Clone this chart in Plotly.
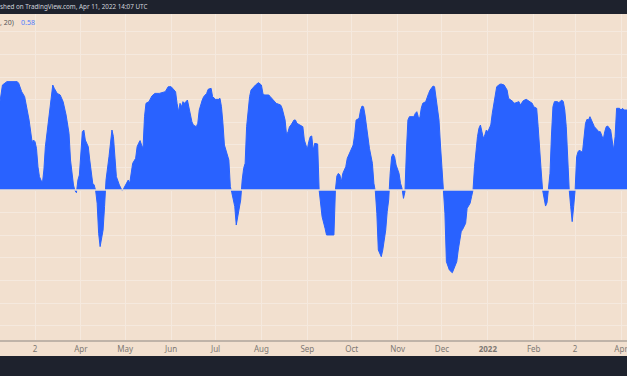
import plotly.graph_objects as go

# ---------------- data ----------------
dates = [
    "2021-02-05","2021-02-07","2021-02-10","2021-02-17","2021-02-18","2021-02-20","2021-02-22","2021-02-23",
    "2021-02-25","2021-02-27","2021-02-28","2021-03-01","2021-03-02","2021-03-03","2021-03-04","2021-03-06",
    "2021-03-07","2021-03-08","2021-03-10","2021-03-12","2021-03-13","2021-03-14","2021-03-16","2021-03-18",
    "2021-03-20","2021-03-22","2021-03-24","2021-03-25","2021-03-27","2021-03-28","2021-03-29","2021-03-30",
    "2021-03-31","2021-04-02","2021-04-03","2021-04-04","2021-04-06","2021-04-07","2021-04-09","2021-04-10",
    "2021-04-11","2021-04-12","2021-04-13","2021-04-14","2021-04-15","2021-04-16","2021-04-17","2021-04-18",
    "2021-04-20","2021-04-22","2021-04-23","2021-04-24","2021-04-25","2021-04-27","2021-04-29","2021-04-30",
    "2021-05-02","2021-05-03","2021-05-04","2021-05-05","2021-05-06","2021-05-08","2021-05-09","2021-05-10",
    "2021-05-11","2021-05-12","2021-05-13","2021-05-14","2021-05-15","2021-05-17","2021-05-19","2021-05-21",
    "2021-05-24","2021-05-28","2021-05-30","2021-06-01","2021-06-04","2021-06-05","2021-06-06","2021-06-07",
    "2021-06-08","2021-06-09","2021-06-10","2021-06-12","2021-06-13","2021-06-14","2021-06-15","2021-06-16",
    "2021-06-18","2021-06-19","2021-06-20","2021-06-22","2021-06-23","2021-06-25","2021-06-26","2021-06-28",
    "2021-06-29","2021-07-01","2021-07-03","2021-07-04","2021-07-05","2021-07-06","2021-07-07","2021-07-10",
    "2021-07-11","2021-07-12","2021-07-14","2021-07-15","2021-07-16","2021-07-18","2021-07-19","2021-07-20",
    "2021-07-21","2021-07-22","2021-07-24","2021-07-25","2021-07-28","2021-07-30","2021-08-01","2021-08-02",
    "2021-08-03","2021-08-06","2021-08-07","2021-08-09","2021-08-11","2021-08-14","2021-08-15","2021-08-17",
    "2021-08-18","2021-08-19","2021-08-20","2021-08-21","2021-08-23","2021-08-24","2021-08-25","2021-08-27",
    "2021-08-29","2021-08-30","2021-09-01","2021-09-02","2021-09-03","2021-09-04","2021-09-05","2021-09-06",
    "2021-09-08","2021-09-09","2021-09-10","2021-09-11","2021-09-13","2021-09-14","2021-09-19","2021-09-20",
    "2021-09-21","2021-09-22","2021-09-23","2021-09-24","2021-09-25","2021-09-27","2021-09-28","2021-09-29",
    "2021-09-30","2021-10-02","2021-10-03","2021-10-04","2021-10-06","2021-10-07","2021-10-08","2021-10-09",
    "2021-10-10","2021-10-11","2021-10-12","2021-10-13","2021-10-15","2021-10-16","2021-10-17","2021-10-18",
    "2021-10-19","2021-10-21","2021-10-22","2021-10-24","2021-10-25","2021-10-26","2021-10-27","2021-10-28",
    "2021-10-29","2021-10-30","2021-10-31","2021-11-02","2021-11-03","2021-11-04","2021-11-05","2021-11-06",
    "2021-11-07","2021-11-08","2021-11-09","2021-11-12","2021-11-13","2021-11-14","2021-11-15","2021-11-16",
    "2021-11-17","2021-11-18","2021-11-20","2021-11-21","2021-11-22","2021-11-23","2021-11-25","2021-11-26",
    "2021-11-27","2021-11-29","2021-11-30","2021-12-01","2021-12-02","2021-12-03","2021-12-04","2021-12-05",
    "2021-12-06","2021-12-08","2021-12-09","2021-12-10","2021-12-11","2021-12-12","2021-12-13","2021-12-14",
    "2021-12-15","2021-12-17","2021-12-18","2021-12-19","2021-12-20","2021-12-21","2021-12-22","2021-12-23",
    "2021-12-24","2021-12-25","2021-12-26","2021-12-27","2021-12-28","2021-12-29","2021-12-30","2021-12-31",
    "2022-01-01","2022-01-03","2022-01-04","2022-01-05","2022-01-06","2022-01-07","2022-01-09","2022-01-10",
    "2022-01-12","2022-01-14","2022-01-15","2022-01-16","2022-01-18","2022-01-19","2022-01-20","2022-01-22",
    "2022-01-23","2022-01-24","2022-01-25","2022-01-27","2022-01-29","2022-01-31","2022-02-01","2022-02-03",
    "2022-02-04","2022-02-05","2022-02-06","2022-02-07","2022-02-08","2022-02-09","2022-02-10","2022-02-11",
    "2022-02-12","2022-02-13","2022-02-14","2022-02-15","2022-02-17","2022-02-18","2022-02-19","2022-02-20",
    "2022-02-21","2022-02-22","2022-02-23","2022-02-24","2022-02-25","2022-02-26","2022-02-27","2022-02-28",
    "2022-03-01","2022-03-02","2022-03-03","2022-03-04","2022-03-05","2022-03-06","2022-03-07","2022-03-08",
    "2022-03-09","2022-03-10","2022-03-11","2022-03-12","2022-03-13","2022-03-14","2022-03-16","2022-03-17",
    "2022-03-18","2022-03-19","2022-03-20","2022-03-21","2022-03-22","2022-03-23","2022-03-25","2022-03-26",
    "2022-03-27","2022-03-28","2022-03-29","2022-03-31","2022-04-01","2022-04-02","2022-04-03","2022-04-05",
    "2022-04-06","2022-04-07","2022-04-08",
]

corr = [
    0.752,0.929,0.959,0.959,0.944,0.870,0.826,0.767,
    0.619,0.428,0.442,0.428,0.369,0.206,0.118,0.059,
    0.177,0.383,0.619,0.855,0.929,0.900,0.855,0.841,
    0.782,0.664,0.501,0.265,0.044,-0.006,-0.024,0.088,
    0.133,0.516,0.531,0.442,0.383,0.265,0.059,0.044,
    -0.006,-0.118,-0.383,-0.501,-0.413,-0.354,-0.147,0.088,
    0.295,0.531,0.472,0.265,0.118,0.044,-0.009,0.015,
    0.059,0.088,0.059,0.133,0.236,0.280,0.383,0.413,
    0.437,0.398,0.369,0.649,0.767,0.782,0.832,0.855,
    0.855,0.870,0.914,0.914,0.870,0.767,0.693,0.767,
    0.737,0.782,0.767,0.796,0.737,0.649,0.605,0.575,
    0.560,0.590,0.708,0.796,0.826,0.855,0.891,0.900,
    0.826,0.802,0.802,0.811,0.737,0.590,0.398,0.265,
    0.029,-0.024,-0.147,-0.310,-0.236,-0.088,0.088,0.192,
    0.236,0.560,0.826,0.885,0.929,0.950,0.929,0.855,
    0.841,0.841,0.826,0.796,0.767,0.752,0.723,0.619,
    0.487,0.516,0.560,0.575,0.619,0.619,0.590,0.575,
    0.560,0.442,0.360,0.428,0.472,0.478,0.354,0.413,
    0.407,0.000,-0.118,-0.236,-0.339,-0.398,-0.398,0.000,
    0.124,0.147,0.133,0.074,0.147,0.206,0.280,0.310,
    0.324,0.398,0.487,0.619,0.634,0.708,0.743,0.737,
    0.664,0.560,0.442,0.369,0.236,0.059,-0.015,-0.206,
    -0.531,-0.590,-0.531,-0.354,-0.192,-0.088,0.147,0.295,
    0.319,0.295,0.221,0.147,0.059,0.015,-0.074,-0.015,
    0.354,0.619,0.649,0.649,0.678,0.693,0.649,0.634,
    0.723,0.767,0.782,0.811,0.855,0.885,0.920,0.914,
    0.826,0.619,0.398,0.206,0.000,-0.206,-0.634,-0.664,
    -0.708,-0.732,-0.702,-0.664,-0.634,-0.531,-0.442,-0.369,
    -0.348,-0.295,-0.162,-0.133,-0.118,-0.059,0.000,0.206,
    0.383,0.472,0.546,0.575,0.516,0.457,0.487,0.531,
    0.516,0.575,0.678,0.767,0.870,0.914,0.935,0.938,
    0.929,0.885,0.811,0.802,0.782,0.767,0.773,0.782,
    0.752,0.767,0.791,0.802,0.782,0.767,0.737,0.723,
    0.560,0.324,0.177,0.000,-0.088,-0.142,-0.112,0.000,
    0.147,0.487,0.737,0.782,0.782,0.773,0.782,0.796,
    0.782,0.708,0.560,0.265,0.000,-0.147,-0.280,-0.147,
    0.000,0.295,0.339,0.354,0.339,0.339,0.472,0.590,
    0.625,0.619,0.649,0.619,0.575,0.560,0.531,0.516,
    0.516,0.487,0.448,0.516,0.560,0.566,0.531,0.442,
    0.354,0.472,0.723,0.723,0.708,0.723,0.708,0.708,
    0.680,0.620,0.580,
]

tick_dates = ["2021-03-01","2021-04-01","2021-05-01","2021-06-01","2021-07-01","2021-08-01",
              "2021-09-01","2021-10-01","2021-11-01","2021-12-01","2022-01-01","2022-02-01",
              "2022-03-01","2022-04-01"]
tick_labels = ["2","Apr","May","Jun","Jul","Aug","Sep","Oct","Nov","Dec","<b>2022</b>","Feb","2","Apr"]

header_text = "shed on TradingView.com, Apr 11, 2022 14:07 UTC"
legend_args = ", 20)"
legend_value = "0.58"

# ---------------- styling ----------------
BG = "#f2e0cf"
GRID = "#f5e9de"
DARK = "#1e222d"
BLUE = "#2962ff"
FONT = "Noto Sans"

PLOT_H = 326  # plot area height in px

fig = go.Figure()
fig.add_trace(go.Scatter(
    x=dates, y=corr, mode="lines", fill="tozeroy",
    line=dict(color=BLUE, width=1), fillcolor=BLUE,
    hoverinfo="skip", showlegend=False,
))

fig.update_layout(
    width=627, height=376,
    margin=dict(l=0, r=0, t=14, b=36, pad=0),
    paper_bgcolor=BG, plot_bgcolor=BG,
    font=dict(family=FONT, size=8, color="#7d7873"),
    showlegend=False,
    xaxis=dict(
        type="date",
        range=["2021-02-05 08:24", "2022-04-05 01:00"],
        tickmode="array", tickvals=tick_dates, ticktext=tick_labels,
        showgrid=True, gridcolor=GRID, gridwidth=1,
        showline=True, linecolor="#bfb3a8", linewidth=2,
        ticks="", zeroline=False, fixedrange=True,
        ticklabeloverflow="allow",
        tickfont=dict(family=FONT, size=8, color="#7d7873"),
    ),
    yaxis=dict(
        range=[-1.3274, 1.5575],
        dtick=0.2, tick0=0,
        showgrid=True, gridcolor=GRID, gridwidth=1,
        showticklabels=False, zeroline=False, ticks="", fixedrange=True,
    ),
    shapes=[
        dict(type="line", xref="paper", yref="y", x0=0, x1=1, y0=0, y1=0,
             line=dict(color="#eadfd4", width=1.5), layer="above"),
        dict(type="rect", xref="paper", yref="paper", x0=0, x1=1,
             y0=1, y1=1 + 15 / PLOT_H, fillcolor=DARK, line=dict(width=0), layer="above"),
        dict(type="rect", xref="paper", yref="paper", x0=0, x1=1,
             y0=-40 / PLOT_H, y1=-16 / PLOT_H, fillcolor=DARK, line=dict(width=0), layer="above"),
    ],
    annotations=[
        dict(text=header_text, xref="paper", yref="paper", x=0, y=1 + 7 / PLOT_H,
             xanchor="left", yanchor="middle", showarrow=False,
             font=dict(family=FONT, size=6.3, color="#d1d4dc"), xshift=-2),
        dict(text=legend_args, xref="paper", yref="paper", x=0, y=1 - 9 / PLOT_H,
             xanchor="left", yanchor="middle", showarrow=False,
             font=dict(family=FONT, size=7, color="#555"), xshift=-2),
        dict(text=legend_value, xref="paper", yref="paper", x=19 / 627, y=1 - 9 / PLOT_H,
             xanchor="left", yanchor="middle", showarrow=False,
             font=dict(family=FONT, size=7, color="#4f7dff")),
    ],
)

fig.write_html("out.html", config={"displayModeBar": False},
               post_script="document.body.style.margin='0';document.body.style.overflow='hidden';")
